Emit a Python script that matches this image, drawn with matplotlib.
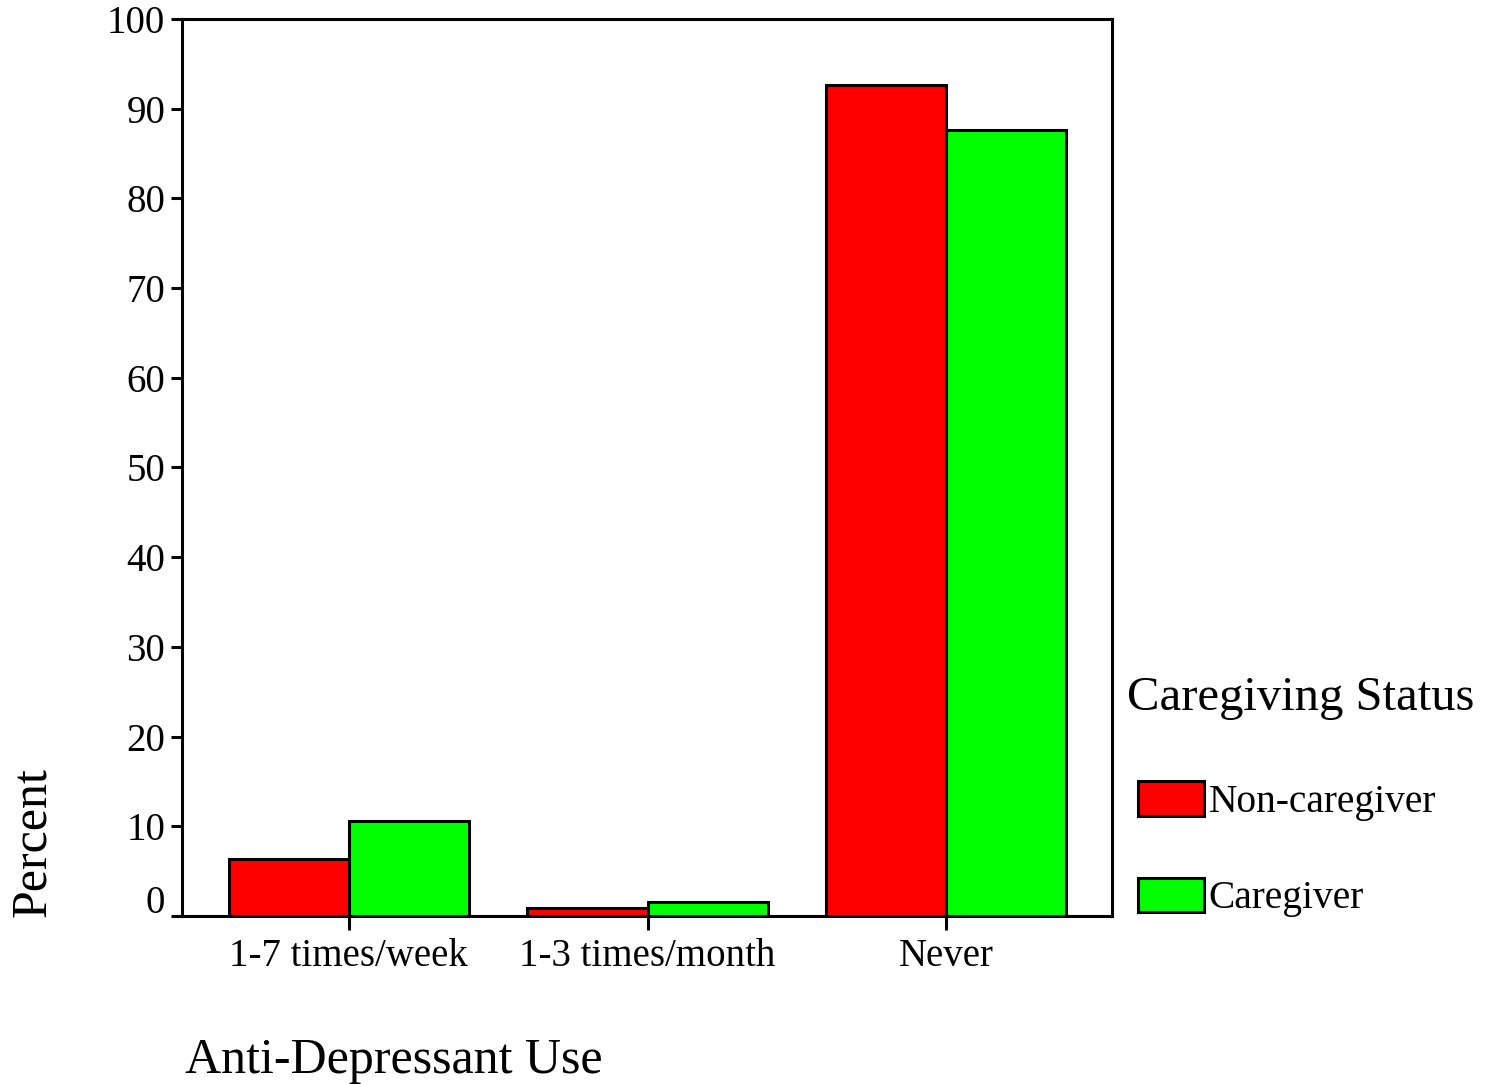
import matplotlib
matplotlib.use("Agg")
import matplotlib.pyplot as plt
import matplotlib.transforms as mtransforms
import numpy as np

categories = ["1-7 times/week", "1-3 times/month", "Never"]
non_caregiver = [6.3, 0.9, 92.6]
caregiver = [10.6, 1.6, 87.6]
series_names = ["Non-caregiver", "Caregiver"]

plt.rcParams["font.family"] = ["Liberation Serif", "DejaVu Serif"]

fig = plt.figure(figsize=(14.91, 10.84), dpi=100)
ax = fig.add_axes([0.122, 0.155, 0.624, 0.8275])

x = np.arange(len(categories))
w = 0.402
ax.bar(x - w / 2, non_caregiver, w, color="#ff0000", edgecolor="black",
       linewidth=2.2, label=series_names[0])
ax.bar(x + w / 2, caregiver, w, color="#00ff00", edgecolor="black",
       linewidth=2.2, label=series_names[1])

ax.set_xlim(-0.559, 2.556)
ax.set_ylim(0, 100)
ax.set_yticks(range(0, 101, 10))
ax.set_xticks(x)
ax.set_xticklabels(categories)
ax.tick_params(axis="both", labelsize=28, width=2.2, direction="out")
ax.tick_params(axis="y", length=8, pad=4)
ax.tick_params(axis="x", length=10, pad=6)
for s in ax.spines.values():
    s.set_linewidth(2.2)

# lift the "0" label off the x axis
zero = ax.get_yticklabels()[0]
zero.set_transform(zero.get_transform() +
                   mtransforms.ScaledTranslation(0, 0.17, fig.dpi_scale_trans))

fig.text(0.124, 0.021, "Anti-Depressant Use", fontsize=36, ha="left",
         va="center")
fig.text(0.022, 0.223, "Percent", fontsize=36, rotation=90, ha="center",
         va="center")

# legend title sits a little left of the swatches
fig.text(0.7559, 0.356, "Caregiving Status", fontsize=35, ha="left",
         va="center")
ax.legend(loc="upper left", bbox_to_anchor=(0.763, 0.2795),
          bbox_transform=fig.transFigure, frameon=False, fontsize=28.4,
          handlelength=1.68, handleheight=0.97, handletextpad=0.12,
          labelspacing=1.44, borderaxespad=0, borderpad=0)

fig.savefig("out.png", dpi=100)
